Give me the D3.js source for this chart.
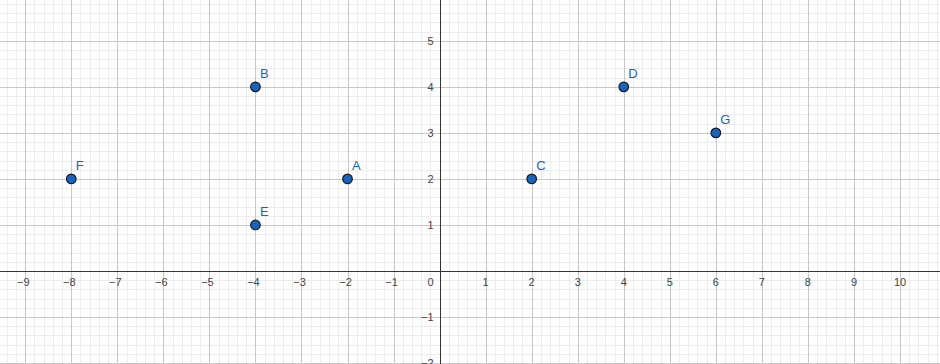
<!DOCTYPE html>
<html><head><meta charset="utf-8">
<script src="https://cdn.jsdelivr.net/npm/d3@7"></script>
<style>html,body{margin:0;padding:0;background:#fff;}svg{display:block;}</style>
</head><body>
<svg id="chart" width="940" height="364"></svg>
<script>
const pointNames = ["A","B","C","D","E","F","G"];
const pointX = [-2,-4,2,4,-4,-8,6];
const pointY = [2,4,2,4,1,2,3];
const xTicks = [-9,-8,-7,-6,-5,-4,-3,-2,-1,1,2,3,4,5,6,7,8,9,10];
const yTicks = [-2,-1,1,2,3,4,5];

const W = 940, H = 364;
const unit = 46.04, ox = 439.6, oy = 271;
const x = d3.scaleLinear().domain([-ox/unit, (W-ox)/unit]).range([0, W]);
const y = d3.scaleLinear().domain([-(H-oy)/unit, oy/unit]).range([H, 0]);
const svg = d3.select("#chart");
const fmt = v => v < 0 ? "\u2212" + Math.abs(v) : String(v);

// minor grid
const minorX = d3.range(Math.ceil(x.domain()[0]*5), Math.floor(x.domain()[1]*5)+1).map(v=>v/5);
const minorY = d3.range(Math.ceil(y.domain()[0]*5), Math.floor(y.domain()[1]*5)+1).map(v=>v/5);
const g = svg.append("g").attr("shape-rendering","crispEdges");
g.selectAll(".mx").data(minorX).join("line").attr("x1",d=>Math.round(x(d))+0.5).attr("x2",d=>Math.round(x(d))+0.5).attr("y1",0).attr("y2",H).attr("stroke","#ececec").attr("stroke-width",1);
g.selectAll(".my").data(minorY).join("line").attr("y1",d=>Math.round(y(d))+0.5).attr("y2",d=>Math.round(y(d))+0.5).attr("x1",0).attr("x2",W).attr("stroke","#ececec").attr("stroke-width",1);
// major grid
const majorX = d3.range(Math.ceil(x.domain()[0]), Math.floor(x.domain()[1])+1);
const majorY = d3.range(Math.ceil(y.domain()[0]), Math.floor(y.domain()[1])+1);
g.selectAll(".MX").data(majorX).join("line").attr("x1",d=>Math.round(x(d))+0.5).attr("x2",d=>Math.round(x(d))+0.5).attr("y1",0).attr("y2",H).attr("stroke","#c8c8c8").attr("stroke-width",1);
g.selectAll(".MY").data(majorY).join("line").attr("y1",d=>Math.round(y(d))+0.5).attr("y2",d=>Math.round(y(d))+0.5).attr("x1",0).attr("x2",W).attr("stroke","#c8c8c8").attr("stroke-width",1);
// axes
g.append("line").attr("x1",0).attr("x2",W).attr("y1",Math.round(y(0))+0.5).attr("y2",Math.round(y(0))+0.5).attr("stroke","#333").attr("stroke-width",1);
g.append("line").attr("y1",0).attr("y2",H).attr("x1",Math.round(x(0))+0.5).attr("x2",Math.round(x(0))+0.5).attr("stroke","#333").attr("stroke-width",1);

// tick labels
const lab = svg.append("g").attr("font-family","Arial, 'Liberation Sans', sans-serif").attr("font-size",11).attr("fill","#444");
lab.selectAll(".xt").data(xTicks).join("text").attr("x",d=>x(d) + (d<0?-2:0)).attr("y",y(0)+15).attr("text-anchor","middle").text(fmt);
lab.selectAll(".yt").data(yTicks).join("text").attr("x",x(0)-6).attr("y",d=>y(d)+4).attr("text-anchor","end").text(fmt);
lab.append("text").attr("x",x(0)-6).attr("y",y(0)+15).attr("text-anchor","end").text("0");

// points
const pts = pointNames.map((n,i)=>({n, x:pointX[i], y:pointY[i]}));
svg.selectAll(".pt").data(pts).join("circle").attr("cx",d=>x(d.x)).attr("cy",d=>y(d.y)).attr("r",4.8)
  .attr("fill","#1565c0").attr("stroke","#1a1a1a").attr("stroke-width",1.2);
svg.selectAll(".pl").data(pts).join("text").attr("x",d=>x(d.x)+4.5).attr("y",d=>y(d.y)-9)
  .attr("font-family","Arial, 'Liberation Sans', sans-serif").attr("font-size",13).attr("fill","#1565c0").text(d=>d.n);
</script>
</body></html>
